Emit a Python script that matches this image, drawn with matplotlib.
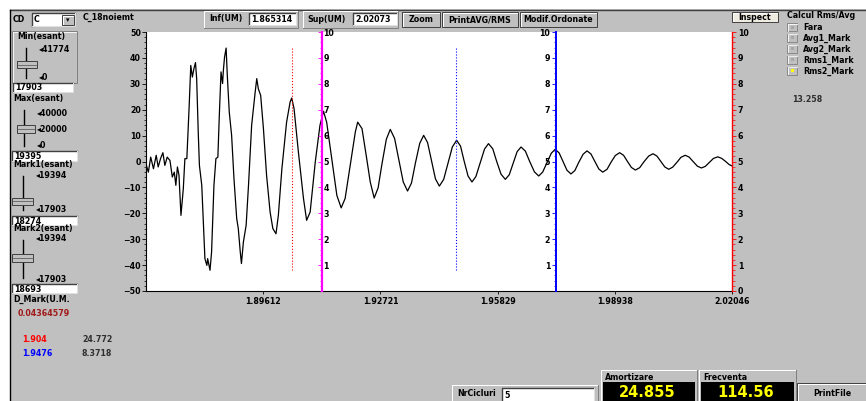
import matplotlib
matplotlib.use("Agg")
import matplotlib.pyplot as plt
import matplotlib.patches as patches
from matplotlib.lines import Line2D
from matplotlib.ticker import MultipleLocator

# ---- data read from the screen ----
# signal: offset in samples from Min(esant)=17903, amplitude in U.M.
sig_n = [0, 6, 12, 19, 26, 31, 37, 43, 48, 54, 61, 67, 72, 76, 80, 84, 89, 95, 99, 104,
         110, 114, 118, 122, 126, 129, 133, 136, 142, 150, 155, 157, 163, 167, 173, 178, 183, 187, 191, 195,
         197, 200, 204, 207, 212, 218, 224, 231, 235, 240, 243, 248, 255, 261, 269, 278, 282, 286, 292, 299,
         307, 316, 323, 331, 337, 346, 358, 367, 371, 377, 388, 401, 409, 418, 431, 443, 452, 460, 473, 486,
         497, 507, 520, 533, 539, 550, 562, 571, 581,
         591, 601, 612, 622, 633, 644, 655, 666, 676, 686, 697, 707, 717, 727, 737, 747,
         758, 769, 780, 791, 801, 810, 820, 830, 840, 851, 862, 872, 883, 893, 904, 915,
         925, 935, 945, 955, 966, 977, 989, 1000, 1010, 1021, 1032, 1042, 1052, 1062, 1072, 1082,
         1092, 1102, 1113, 1123, 1133, 1143, 1153, 1163, 1174, 1184, 1195, 1206, 1216, 1226, 1236, 1246,
         1257, 1268, 1280, 1291, 1301, 1311, 1321, 1331, 1341, 1352, 1362, 1373, 1383, 1393, 1404, 1414,
         1424, 1435, 1445, 1456, 1466, 1476, 1485, 1492]
sig_v = [-1, -4.1, 1.7, -2.8, 2.4, -2.1, 1.1, 3.4, -1.5, 1.7, 0.4, -6.0, -4.1, -9.2, -2.1, -5.3, -20.8, -10.5, 1.1, 1.1,
         21.7, 37.1, 32.6, 35.8, 38.2, 32.0, 11.4, -1.5, -9.2, -37.5, -40.1, -37.5, -42.0, -34.9, -9.2, 1.1, 1.7, 19.1, 34.6, 30.1,
         35.2, 40.3, 43.8, 33.3, 19.1, 10.1, -6.6, -22.1, -25.9, -34.9, -39.4, -31.1, -24.6, -9.2, 14.0, 26.8, 32.0, 28.1, 25.5, 12.7,
         -5.3, -19.5, -25.9, -27.9, -20.8, -2.8, 15.2, 23.0, 24.5, 20.4, 3.7, -14.3, -22.7, -19.5, -0.2, 14.0, 19.4, 15.2, 1.1, -13.1,
         -17.9, -14.3, -1.5, 11.4, 15.2, 12.7, 1.1, -7.9, -14.1,
         -10.2, -0.8, 8.6, 12.4, 8.9, 0.5, -7.9, -11.4, -8.3, -0.6, 7.0, 10.1, 7.3, 0.3, -6.7, -9.5,
         -6.9, -0.6, 5.6, 8.2, 5.9, 0.2, -5.6, -7.9, -5.8, -0.5, 4.8, 6.9, 4.9, 0.0, -4.9, -6.9,
         -5.1, -0.6, 3.8, 5.6, 4.0, 0.0, -4.0, -5.6, -4.1, -0.4, 3.2, 4.7, 3.3, 0.0, -3.4, -4.8,
         -3.5, -0.3, 2.8, 4.1, 2.9, 0.0, -2.9, -4.1, -3.0, -0.3, 2.3, 3.4, 2.4, 0.0, -2.3, -3.3,
         -2.4, -0.1, 2.1, 3.0, 2.1, 0.0, -2.1, -3.0, -2.2, -0.3, 1.6, 2.4, 1.7, 0.0, -1.8, -2.5,
         -1.9, -0.3, 1.2, 1.8, 1.2, 0.0, -1.2, -1.7]

FS = 9600                  # samples / s
MIN_S, MAX_S = 17903, 19395
MARK1, MARK2 = 18274, 18693
MAG_AXIS_S, BLUE_AXIS_S = 18351, 18947
XMIN = 1.86503

xtick_vals = [1.89612, 1.92721, 1.95829, 1.98938, 2.02046]
xtick_labels = ["1.89612", "1.92721", "1.95829", "1.98938", "2.02046"]
ytick_vals = [50, 40, 30, 20, 10, 0, -10, -20, -30, -40, -50]

radio_labels = ["Fara", "Avg1_Mark", "Avg2_Mark", "Rms1_Mark", "Rms2_Mark"]
radio_sel = 4

W, H = 866, 401
GRAY = "#C0C0C0"
FONT = 5.7


def t_of(s):
    return XMIN + (s - MIN_S) / FS


fig = plt.figure(figsize=(W / 100, H / 100), dpi=100, facecolor=GRAY)


def fx(x):
    return x / W


def fy(y):
    return 1 - y / H


def rect(x0, y0, x1, y1, fc, ec="none", lw=0.7, z=1):
    fig.add_artist(patches.Rectangle((fx(x0), fy(y1)), (x1 - x0) / W, (y1 - y0) / H,
                                     transform=fig.transFigure, facecolor=fc,
                                     edgecolor=ec, linewidth=lw, zorder=z))


def line(xs, ys, color, lw=0.72, z=2, ls="-"):
    fig.add_artist(Line2D([fx(x) for x in xs], [fy(y) for y in ys], transform=fig.transFigure,
                          color=color, linewidth=lw, linestyle=ls, zorder=z))


def bevel(x0, y0, x1, y1, sunken=True):
    dark, light = ("#808080", "white") if sunken else ("white", "#808080")
    line([x0, x0, x1], [y1, y0, y0], dark)
    line([x0, x1, x1], [y1, y1, y0], light)


def label(x, y, s, size=FONT, color="black", ha="left", **kw):
    fig.text(fx(x), fy(y), s, fontsize=size, fontweight="bold", color=color,
             ha=ha, va="center", **kw)


def textbox(x0, y0, x1, y1, s):
    rect(x0, y0, x1, y1, "white")
    line([x0, x0, x1], [y1, y0, y0], "#404040", lw=1.0)
    line([x0, x1, x1], [y1, y1, y0], "#E0E0E0")
    label(x0 + 2, (y0 + y1) / 2 + 0.5, s)


def button(x0, y0, x1, y1, s, fc=GRAY):
    rect(x0, y0, x1, y1, fc, ec="#404040", lw=0.7)
    line([x0 + 1, x0 + 1, x1 - 1], [y1 - 1, y0 + 1, y0 + 1], "white")
    label((x0 + x1) / 2, (y0 + y1) / 2 + 0.5, s, ha="center")


def slider(x, y0, y1, ty0, ty1, tx0, tx1):
    line([x, x], [y0, y1], "black", lw=1.0)
    rect(tx0, ty0, tx1, ty1, GRAY, ec="#404040", lw=0.7, z=3)
    line([tx0 + 1, tx1 - 1], [(ty0 + ty1) / 2, (ty0 + ty1) / 2], "#606060", lw=0.6, z=4)


# window frame
rect(0, 0, W, 9, "white")
rect(0, 0, 10, H, "white")
line([10, W], [9.5, 9.5], "#404040", lw=1.0)
line([10, 10], [9.5, H], "black", lw=1.0)

# ---- main plot ----
ax = fig.add_axes([fx(146), fy(291), 586 / W, 259 / H])
ax.set_facecolor("white")
t = [t_of(MIN_S + n) for n in sig_n]
ax.plot(t, sig_v, color="black", lw=0.9)
ax.vlines(t_of(MARK1), -42, 44, colors="red", linestyles=":", lw=0.8)
ax.vlines(t_of(MARK2), -42, 44, colors="blue", linestyles=":", lw=0.8)
ax.set_xlim(XMIN, xtick_vals[-1])
ax.set_ylim(-50, 50)
ax.set_xticks(xtick_vals)
ax.set_xticklabels(xtick_labels)
ax.set_yticks(ytick_vals)
ax.yaxis.set_minor_locator(MultipleLocator(2))
for sp in ["top", "right"]:
    ax.spines[sp].set_visible(False)
ax.spines["left"].set_linewidth(0.8)
ax.spines["bottom"].set_linewidth(0.8)
ax.tick_params(axis="y", which="major", length=3, width=0.6, pad=0.8, labelsize=FONT)
ax.tick_params(axis="y", which="minor", length=1.5, width=0.5)
ax.tick_params(axis="x", which="major", length=2.5, width=0.6, pad=1.5, labelsize=FONT)
for lab in ax.get_xticklabels() + ax.get_yticklabels():
    lab.set_fontweight("bold")


def side_axis(pos_t, color, lw, side, direction, zero):
    a = ax.twinx()
    a.set_ylim(0, 10)
    for sp in a.spines.values():
        sp.set_visible(False)
    sp = a.spines[side]
    sp.set_visible(True)
    sp.set_position(("data", pos_t))
    sp.set_color(color)
    sp.set_linewidth(lw)
    if side == "left":
        a.yaxis.set_ticks_position("left")
    a.set_yticks(range(0 if zero else 1, 11))
    a.yaxis.set_minor_locator(MultipleLocator(0.2))
    a.tick_params(axis="y", which="both", direction=direction, colors=color,
                  labelcolor="black", labelsize=FONT)
    a.tick_params(axis="y", which="major", length=3, width=0.6, pad=1.2)
    a.tick_params(axis="y", which="minor", length=1.8, width=0.5)
    for lab in a.get_yticklabels():
        lab.set_fontweight("bold")
    return a


side_axis(t_of(MAG_AXIS_S), "#FF00FF", 1.6, "right", "in", False)
side_axis(t_of(BLUE_AXIS_S), "#0000FF", 1.4, "left", "out", False)
side_axis(xtick_vals[-1], "#FF0000", 1.0, "right", "out", True)

# ---- top bar ----
label(13, 19, "CD")
textbox(32, 13, 75, 26, "C")
button(62, 15, 74, 25, "")
label(68, 20.5, "\u25BE", size=5, ha="center")
label(83, 17, "C_18noiemt")

rect(204, 11, 298, 28, GRAY, ec="none")
bevel(204, 11, 298, 28, sunken=False)
label(209, 19, "Inf(UM)")
textbox(249, 13, 296, 25, "1.865314")
bevel(303, 11, 398, 28, sunken=False)
label(307, 19, "Sup(UM)")
textbox(353, 13, 397, 25, "2.02073")
button(402, 12, 440, 27, "Zoom")
button(442, 12, 518, 27, "PrintAVG/RMS")
button(520, 12, 597, 27, "Modif.Ordonate")

# ---- right panel ----
button(732, 12, 778, 22, "Inspect", fc="#EEEBE0")
label(787, 16, "Calcul Rms/Avg")
for i, name in enumerate(radio_labels):
    yc = 27 + i * 10.9
    rect(787, yc - 4, 797, yc + 4, GRAY, ec="#808080", lw=0.6)
    line([787.5, 787.5, 796.5], [yc + 3.5, yc - 3.5, yc - 3.5], "white", lw=0.6)
    rect(790.5, yc - 1.5, 793.5, yc + 1.5, "#FFFF00" if i == radio_sel else "#A8A8A8", z=3)
    label(803, yc + 0.5, name)
label(792, 100, "13.258", color="#303030")

# ---- left panel ----
rect(12, 31, 77, 83, GRAY, ec="#808080", lw=0.7)
line([13, 13, 76], [82, 32, 32], "white", lw=0.6)
label(17, 37, "Min(esant)")
slider(25.5, 48, 78, 61, 68, 17, 37)
label(39, 49, "\u25C241774")
label(39, 77, "\u25C20")
textbox(13, 83, 73, 92, "17903")

label(13, 99, "Max(esant)")
slider(23.5, 110, 146, 125, 133, 17, 35)
label(37, 113, "\u25C240000")
label(37, 129, "\u25C220000")
label(37, 145, "\u25C20")
textbox(12, 151, 77, 161, "19395")

label(13, 165, "Mark1(esant)")
slider(23, 176, 210, 198, 205, 12, 33)
label(36, 175, "\u25C219394")
label(36, 210, "\u25C217903")
textbox(12, 216, 77, 225, "18274")

label(13, 229, "Mark2(esant)")
slider(23, 240, 278, 254, 262, 12, 33)
label(36, 239, "\u25C219394")
label(36, 279, "\u25C217903")
textbox(12, 284, 77, 293, "18693")

label(13, 299, "D_Mark(U.M.")
label(18, 313, "0.04364579", color="#A01818")
label(22, 340, "1.904", color="#FF0000")
label(82, 340, "24.772", color="#303030")
label(22, 354, "1.9476", color="#0000FF")
label(82, 354, "8.3718", color="#303030")

# ---- bottom bar ----
bevel(452, 385, 598, H + 2, sunken=False)
label(457, 393, "NrCicluri")
textbox(502, 388, 594, H + 2, "5")

for x0, x1, title, val in [(601, 697, "Amortizare", "24.855"), (699, 796, "Frecventa", "114.56")]:
    bevel(x0, 370, x1, H + 2, sunken=False)
    label(x0 + 4, 377, title)
    rect(x0 + 2, 382, x1 - 2, H, "black")
    label((x0 + x1) / 2 - 2, 392.5, val, size=10.5, color="#FFFF00", ha="center")

button(797, 383, W + 2, H + 2, "PrintFile")

fig.savefig("out.png", dpi=100, facecolor=GRAY)
